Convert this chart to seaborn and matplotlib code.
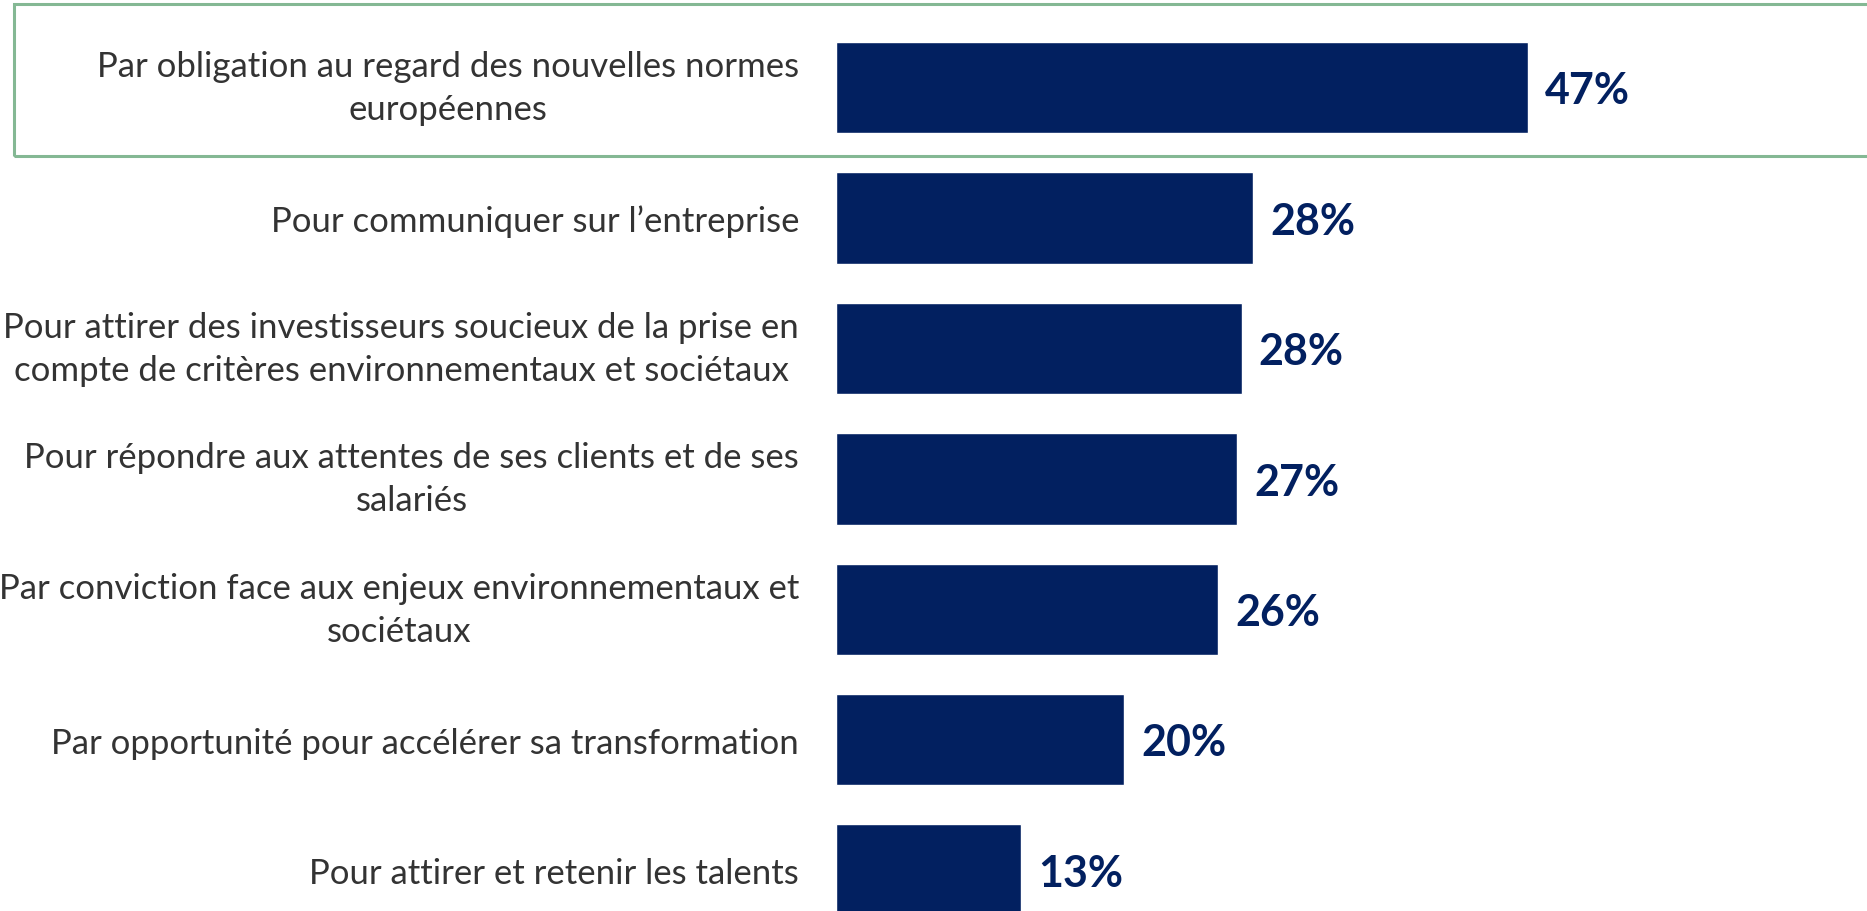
import matplotlib
matplotlib.use("Agg")
import matplotlib.pyplot as plt
import seaborn as sns
from matplotlib.patches import Rectangle

# Raisons de publier (valeurs en %)
categories = [
    "Par obligation au regard des nouvelles normes\neuropéennes",
    "Pour communiquer sur l\u2019entreprise",
    "Pour attirer des investisseurs soucieux de la prise en\ncompte de critères environnementaux et sociétaux",
    "Pour répondre aux attentes de ses clients et de ses\nsalariés",
    "Par conviction face aux enjeux environnementaux et\nsociétaux",
    "Par opportunité pour accélérer sa transformation",
    "Pour attirer et retenir les talents",
]
values = [47.1, 28.4, 27.6, 27.3, 26.0, 19.6, 12.6]

NAVY = "#022060"
GREEN = "#84B894"
W, H = 1867, 912

sns.set_theme(style="white")
plt.rcParams["font.family"] = ["Lato", "DejaVu Sans"]

fig = plt.figure(figsize=(W / 100, H / 100), dpi=100)
ax = fig.add_axes([836 / W, 0, 1 - 836 / W, 1])

sns.barplot(x=values, y=categories, color=NAVY, saturation=1, width=0.7,
            orient="h", ax=ax)

px_per_unit = 14.7
ax.set_xlim(0, (W - 836) / px_per_unit)
pitch, first_center = 130.4, 88.7
ax.set_ylim((H - first_center) / pitch, -first_center / pitch)

for i, v in enumerate(values):
    ax.text(v + 17 / px_per_unit, i + 0.02, f"{round(v)}%", va="center", ha="left",
            fontsize=31, fontweight="bold", color=NAVY)

ax.set_xticks([])
ax.set_xlabel("")
ax.set_ylabel("")
ax.tick_params(axis="y", length=0, pad=26.5, labelsize=25, labelcolor="#333333")
for lbl in ax.get_yticklabels():
    lbl.set_multialignment("center")
    lbl.set_linespacing(1.42)
    if "\n" in lbl.get_text():
        lbl.set_verticalalignment("center")
sns.despine(ax=ax, left=True, bottom=True)

# cadre vert autour de la première ligne
fig.patches.append(Rectangle((14 / W, 1 - 157 / H), 1, (157 - 5) / H,
                             transform=fig.transFigure, fill=False,
                             edgecolor=GREEN, linewidth=2.2))

fig.savefig("out.png", dpi=100)
